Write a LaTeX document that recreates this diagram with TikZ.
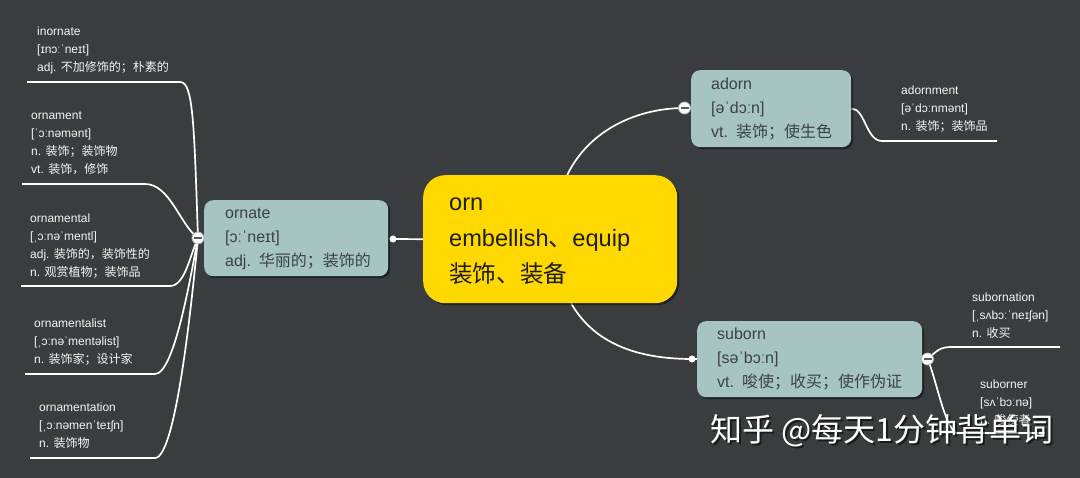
\documentclass[tikz,border=0pt]{standalone}
\usepackage{fontspec}
\setmainfont{Liberation Sans}
\newfontfamily\cjk{Noto Sans CJK SC}
\usetikzlibrary{shadows}
\newcommand\zh[1]{{\cjk #1}}
\newcommand\myline[1]{\mbox{\strut #1}}
\definecolor{bgc}{HTML}{3A3D3F}
\definecolor{topicc}{HTML}{A6C4C1}
\definecolor{topictext}{HTML}{3C4244}
\definecolor{centerc}{HTML}{FFD800}
\definecolor{centertext}{HTML}{1E1E1E}
\definecolor{leaftext}{HTML}{F4F4F4}
\pgfdeclarelayer{back}
\pgfdeclarelayer{lines}
\pgfsetlayers{back,lines,main}
\tikzset{
  topic/.style={fill=topicc, rounded corners=9pt, align=left, inner xsep=20pt, inner ysep=0pt,
    font=\fontsize{16}{24}\selectfont, text=topictext, anchor=north west,
    drop shadow={shadow xshift=2pt, shadow yshift=-2pt, opacity=0.45, fill=black}},
  centerbox/.style={fill=centerc, rounded corners=22pt, align=left, inner xsep=26pt, inner ysep=0pt,
    font=\fontsize{23.6}{36}\selectfont, text=centertext, anchor=north west,
    drop shadow={shadow xshift=2pt, shadow yshift=-2pt, opacity=0.45, fill=black}},
  leaf/.style={anchor=north west, inner sep=0pt, align=left, text=leaftext, font=\fontsize{12}{18}\selectfont},
  conn/.style={draw=white, line width=1.7pt},
  collapsemark/.style={circle, fill=white, draw=gray!60, line width=0.8pt, minimum size=12pt, inner sep=0pt,
    path picture={\draw[black!65, line width=1.3pt] ([xshift=-4pt]path picture bounding box.center) -- ([xshift=4pt]path picture bounding box.center);}},
  dotmark/.style={circle, fill=white, minimum size=7pt, inner sep=0pt},
}
\begin{document}
\begin{tikzpicture}[x=1pt,y=-1pt]
\useasboundingbox (0,0) rectangle (1080,478);
\begin{pgfonlayer}{back}
\fill[bgc] (0,0) rectangle (1080,478);
\end{pgfonlayer}

% main nodes
\node[centerbox, text width=202pt, minimum height=128pt] (orn) at (423,175)
  {\myline{orn}\\\myline{embellish\zh{、}equip}\\\myline{\zh{装饰、装备}}};
\node[topic, text width=142pt, inner xsep=21pt, minimum height=76pt] (ornate) at (204,200)
  {\myline{ornate}\\\myline{[ɔːˈneɪt]}\\\myline{adj. \zh{华丽的；装饰的}}};
\node[topic, text width=120pt, minimum height=77pt] (adorn) at (691,70)
  {\myline{adorn}\\\myline{[əˈdɔːn]}\\\myline{vt. \zh{装饰；使生色}}};
\node[topic, text width=185pt, minimum height=76pt] (suborn) at (697,321)
  {\myline{suborn}\\\myline{[səˈbɔːn]}\\\myline{vt. \zh{唆使；收买；使作伪证}}};

% leaves
\node[leaf] (inornate) at (37,22.7)
  {\myline{inornate}\\\myline{[ɪnɔːˈneɪt]}\\\myline{adj. \zh{不加修饰的；朴素的}}};
\node[leaf] (ornament) at (31,106.7)
  {\myline{ornament}\\\myline{[ˈɔːnəmənt]}\\\myline{n. \zh{装饰；装饰物}}\\\myline{vt. \zh{装饰，修饰}}};
\node[leaf] (ornamental) at (30,209.7)
  {\myline{ornamental}\\\myline{[ˌɔːnəˈmentl]}\\\myline{adj. \zh{装饰的，装饰性的}}\\\myline{n. \zh{观赏植物；装饰品}}};
\node[leaf] (ornamentalist) at (34,314.7)
  {\myline{ornamentalist}\\\myline{[ˌɔːnəˈmentəlist]}\\\myline{n. \zh{装饰家；设计家}}};
\node[leaf] (ornamentation) at (39,398.7)
  {\myline{ornamentation}\\\myline{[ˌɔːnəmenˈteɪʃn]}\\\myline{n. \zh{装饰物}}};
\node[leaf] (adornment) at (901,81.7)
  {\myline{adornment}\\\myline{[əˈdɔːnmənt]}\\\myline{n. \zh{装饰；装饰品}}};
\node[leaf] (subornation) at (972,288.7)
  {\myline{subornation}\\\myline{[ˌsʌbɔːˈneɪʃən]}\\\myline{n. \zh{收买}}};
\node[leaf] (suborner) at (980,375.7)
  {\myline{suborner}\\\myline{[sʌˈbɔːnə]}\\\myline{n. \zh{唆使者}}};

% markers
\node[collapsemark] (mOrnL) at (198,238) {};
\node[dotmark] (mOrnR) at (393,239) {};
\node[collapsemark] (mAdorn) at (684.5,108) {};
\node[dotmark] (mSubL) at (692,359) {};
\node[collapsemark] (mSubR) at (927.5,359) {};

% underline coordinates
\coordinate (uInornate) at (180,82);   \coordinate (eInornate) at (27,82);
\coordinate (uOrnament) at (145,184);  \coordinate (eOrnament) at (22,184);
\coordinate (uOrnamental) at (170,286); \coordinate (eOrnamental) at (21,286);
\coordinate (uOrnamentalist) at (155,374); \coordinate (eOrnamentalist) at (25,374);
\coordinate (uOrnamentation) at (155,458); \coordinate (eOrnamentation) at (30,458);
\coordinate (uAdornment) at (882,141); \coordinate (eAdornment) at (997,141);
\coordinate (uSubornation) at (952,347); \coordinate (eSubornation) at (1060,347);
\coordinate (uSuborner) at (956,433); \coordinate (eSuborner) at (1045,433);

\begin{pgfonlayer}{lines}
\draw[conn] (orn.west) -- (mOrnR.center);
\draw[conn] ([xshift=17pt]orn.north) .. controls (590,128) and (640,108) .. (mAdorn.center);
\draw[conn] ([xshift=21pt]orn.south) .. controls (595,345) and (640,359) .. (mSubL.center);
\draw[conn] (mSubL.center) -- (suborn.west |- mSubL);
\draw[conn] (mOrnL.center) -- (ornate.west |- mOrnL);
\draw[conn] (mAdorn.center) -- (adorn.west |- mAdorn);
\draw[conn] (mOrnL.center) .. controls (194,120) and (193,82) .. (uInornate) -- (eInornate);
\draw[conn] (mOrnL.center) .. controls (180,225) and (170,184) .. (uOrnament) -- (eOrnament);
\draw[conn] (mOrnL.center) .. controls (190,255) and (185,286) .. (uOrnamental) -- (eOrnamental);
\draw[conn] (mOrnL.center) .. controls (190,280) and (174,374) .. (uOrnamentalist) -- (eOrnamentalist);
\draw[conn] (mOrnL.center) .. controls (192,300) and (176,458) .. (uOrnamentation) -- (eOrnamentation);
\draw[conn] (adorn.east) .. controls (865,108) and (866,141) .. (uAdornment) -- (eAdornment);
\draw[conn] (mSubR.center) .. controls (938,350) and (940,347) .. (uSubornation) -- (eSubornation);
\draw[conn] (mSubR.center) .. controls (936,378) and (944,425) .. (uSuborner) -- (eSuborner);
\end{pgfonlayer}

% watermark
\node[anchor=west, inner sep=0pt, font=\cjk\fontsize{32}{32}\selectfont, text=black, opacity=0.55] (wmshadow) at (712,433) {知乎 @每天1分钟背单词};
\node[anchor=west, inner sep=0pt, font=\cjk\fontsize{32}{32}\selectfont, text=white] (wm) at (710,431) {知乎 @每天1分钟背单词};
\end{tikzpicture}
\end{document}
